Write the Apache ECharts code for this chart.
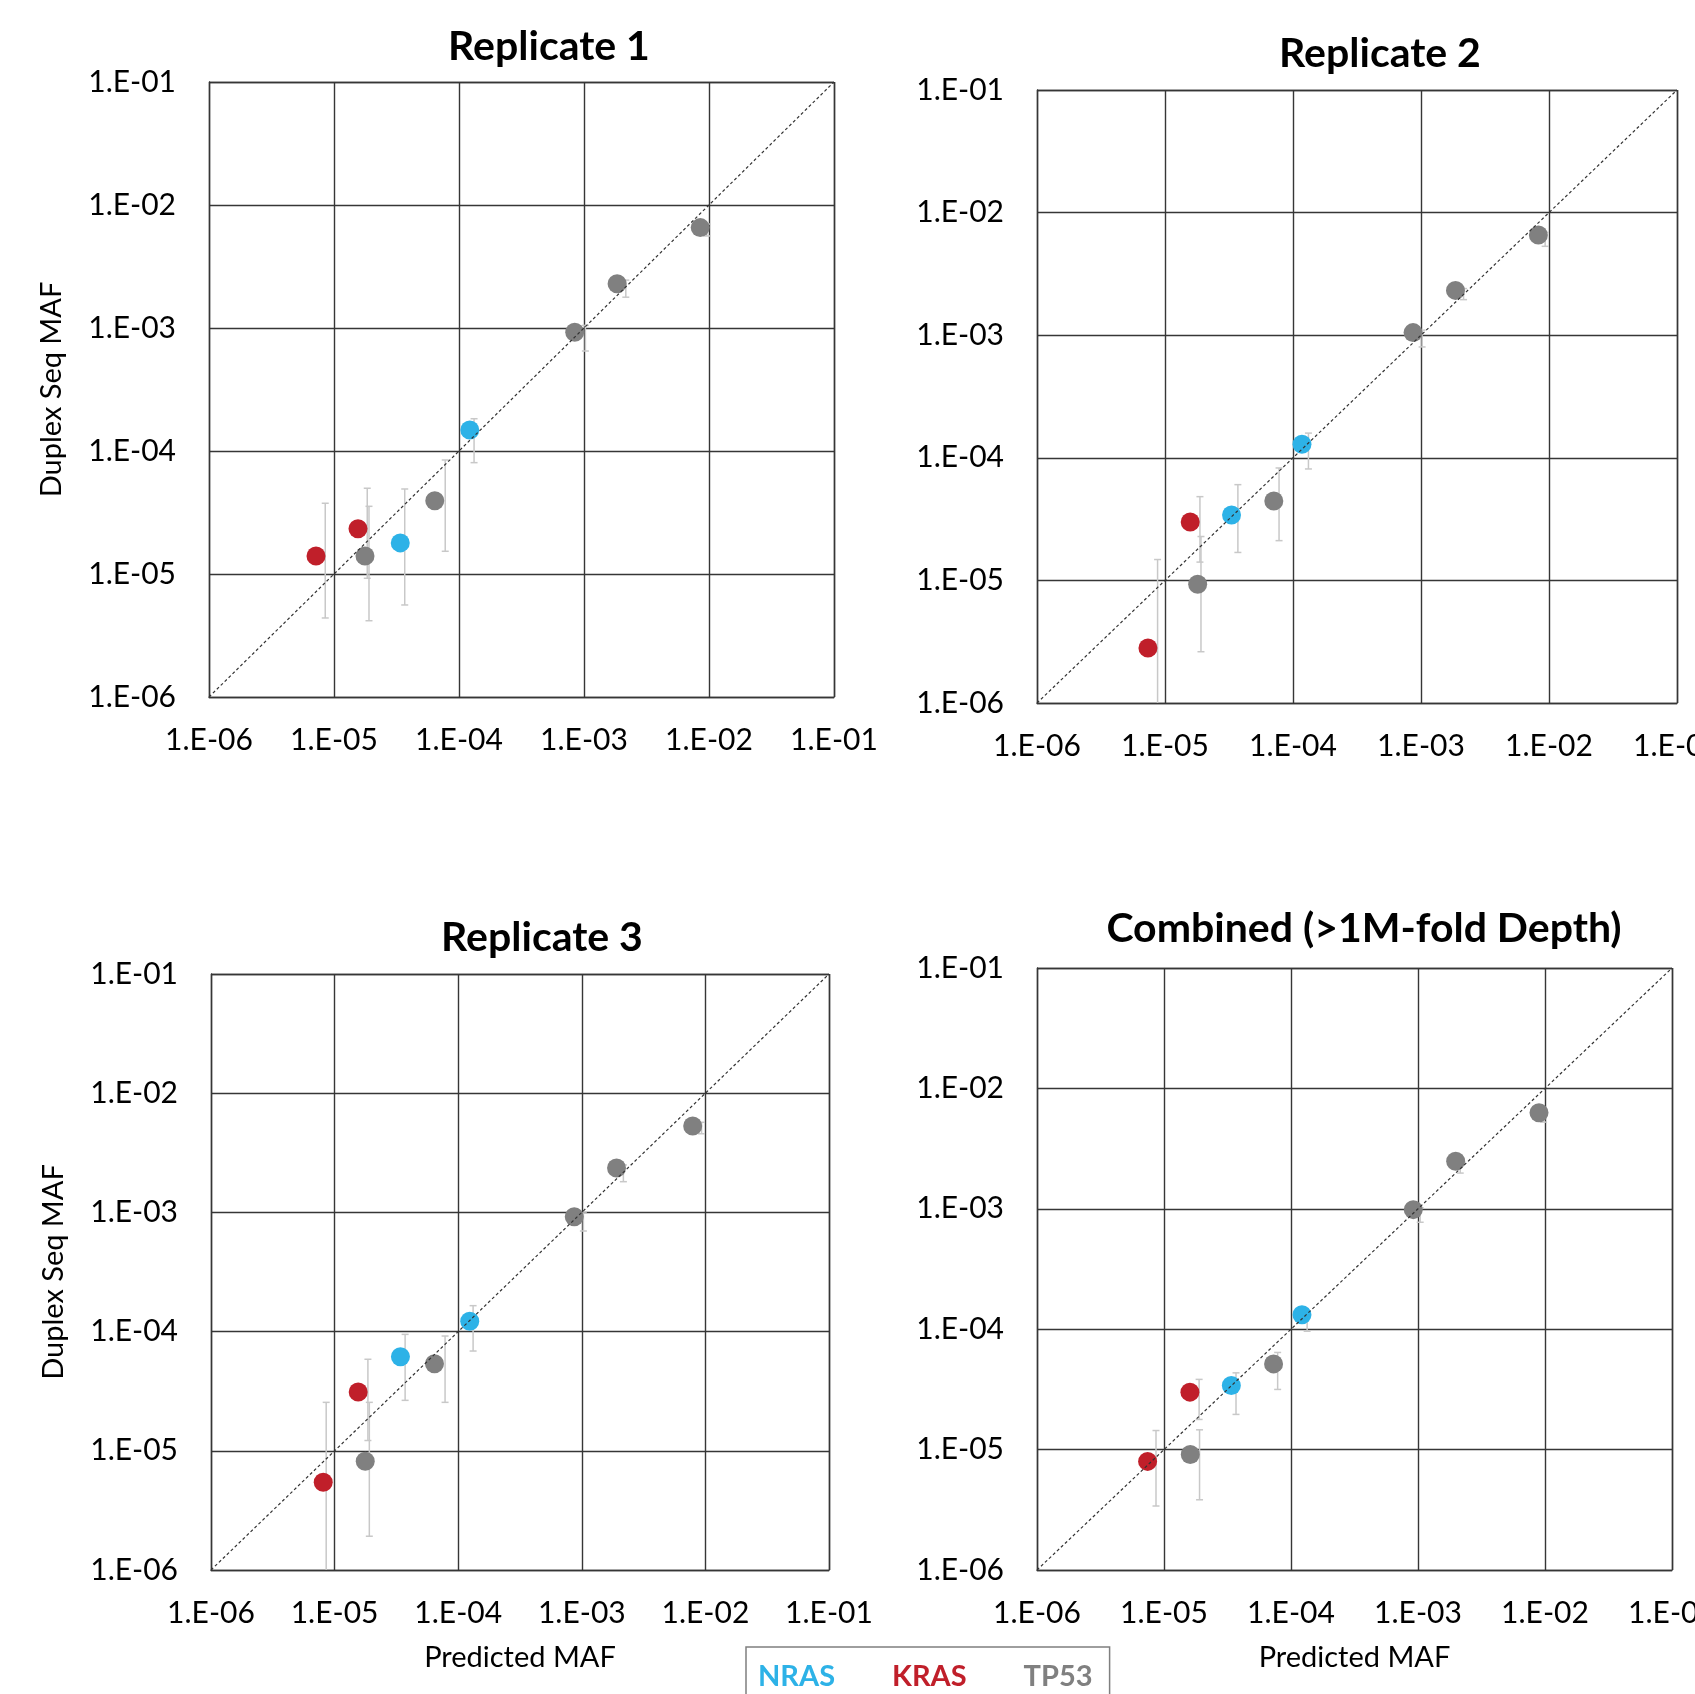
<!DOCTYPE html>
<html>
<head>
<meta charset="utf-8">
<script src="https://cdn.jsdelivr.net/npm/echarts@6/dist/echarts.min.js"></script>
<style>html,body{margin:0;padding:0;background:#fff}#c{width:1695px;height:1694px}</style>
</head>
<body>
<div id="c"></div>
<script>
// ---------- data ----------
const tickLabels = ['1.E-06', '1.E-05', '1.E-04', '1.E-03', '1.E-02', '1.E-01'];
const panelTitles = ['Replicate 1', 'Replicate 2', 'Replicate 3', 'Combined (>1M-fold Depth)'];
const genes = ['KRAS', 'KRAS', 'TP53', 'NRAS', 'TP53', 'NRAS', 'TP53', 'TP53', 'TP53'];

// Replicate 1
const rep1Pred  = [7.18e-6, 1.556e-5, 1.77e-5, 3.39e-5, 6.40e-5, 1.22e-4, 8.43e-4, 1.84e-3, 8.51e-3];
const rep1Obs   = [1.40e-5, 2.33e-5, 1.40e-5, 1.79e-5, 3.94e-5, 1.48e-4, 9.23e-4, 2.29e-3, 6.55e-3];
const rep1ErrX  = [8.51e-6, 1.845e-5, 1.905e-5, 3.68e-5, 7.76e-5, 1.32e-4, 1.026e-3, 2.16e-3, 9.59e-3];
const rep1ErrLo = [4.39e-6, 9.23e-6, 4.17e-6, 5.60e-6, 1.53e-5, 8.04e-5, 6.50e-4, 1.78e-3, 5.60e-3];
const rep1ErrHi = [3.76e-5, 4.98e-5, 3.55e-5, 4.91e-5, 8.45e-5, 1.83e-4, 1.05e-3, 2.45e-3, 7.0e-3];

// Replicate 2
const rep2Pred  = [7.36e-6, 1.574e-5, 1.80e-5, 3.31e-5, 7.08e-5, 1.175e-4, 8.67e-4, 1.86e-3, 8.26e-3];
const rep2Obs   = [2.81e-6, 2.99e-5, 9.29e-6, 3.41e-5, 4.45e-5, 1.29e-4, 1.05e-3, 2.32e-3, 6.56e-3];
const rep2ErrX  = [8.75e-6, 1.875e-5, 1.91e-5, 3.71e-5, 7.78e-5, 1.32e-4, 1.02e-3, 2.15e-3, 9.33e-3];
const rep2ErrLo = [5.0e-7, 1.41e-5, 2.62e-6, 1.69e-5, 2.11e-5, 8.11e-5, 8.02e-4, 1.95e-3, 5.31e-3];
const rep2ErrHi = [1.48e-5, 4.82e-5, 2.28e-5, 6.04e-5, 8.26e-5, 1.59e-4, 1.10e-3, 2.40e-3, 6.9e-3];

// Replicate 3
const rep3Pred  = [8.09e-6, 1.552e-5, 1.77e-5, 3.41e-5, 6.43e-5, 1.24e-4, 8.69e-4, 1.91e-3, 7.89e-3];
const rep3Obs   = [5.45e-6, 3.11e-5, 8.17e-6, 6.15e-5, 5.38e-5, 1.22e-4, 9.20e-4, 2.36e-3, 5.31e-3];
const rep3ErrX  = [8.55e-6, 1.86e-5, 1.91e-5, 3.72e-5, 7.83e-5, 1.32e-4, 1.03e-3, 2.17e-3, 9.31e-3];
const rep3ErrLo = [5.0e-7, 1.22e-5, 1.92e-6, 2.65e-5, 2.55e-5, 6.87e-5, 6.98e-4, 1.81e-3, 4.57e-3];
const rep3ErrHi = [2.55e-5, 5.86e-5, 2.55e-5, 9.48e-5, 9.18e-5, 1.65e-4, 9.9e-4, 2.5e-3, 5.7e-3];

// Combined
const combPred  = [7.43e-6, 1.60e-5, 1.61e-5, 3.39e-5, 7.29e-5, 1.22e-4, 9.18e-4, 1.98e-3, 8.97e-3];
const combObs   = [7.98e-6, 3.00e-5, 9.12e-6, 3.41e-5, 5.15e-5, 1.32e-4, 9.84e-4, 2.48e-3, 6.28e-3];
const combErrX  = [8.65e-6, 1.89e-5, 1.905e-5, 3.69e-5, 7.85e-5, 1.34e-4, 1.04e-3, 2.15e-3, 9.75e-3];
const combErrLo = [3.40e-6, 1.78e-5, 3.83e-6, 1.96e-5, 3.16e-5, 9.62e-5, 7.73e-4, 1.98e-3, 5.25e-3];
const combErrHi = [1.44e-5, 3.83e-5, 1.46e-5, 4.34e-5, 6.41e-5, 1.40e-4, 1.02e-3, 2.6e-3, 6.5e-3];

const identityLine = [[1e-6, 1e-6], [1e-1, 1e-1]];

// ---------- styling / layout ----------
const panels = [
  {pred: rep1Pred, obs: rep1Obs, ex: rep1ErrX, lo: rep1ErrLo, hi: rep1ErrHi},
  {pred: rep2Pred, obs: rep2Obs, ex: rep2ErrX, lo: rep2ErrLo, hi: rep2ErrHi},
  {pred: rep3Pred, obs: rep3Obs, ex: rep3ErrX, lo: rep3ErrLo, hi: rep3ErrHi},
  {pred: combPred, obs: combObs, ex: combErrX, lo: combErrLo, hi: combErrHi}
];
const geneColors = {NRAS: '#2DB2E7', KRAS: '#C01F2A', TP53: '#808080'};
const legendOrder = ['NRAS', 'KRAS', 'TP53'];
const FONT = 'Lato';
const gridBoxes = [
  {left: 209, top: 82, width: 625, height: 615},
  {left: 1037, top: 90, width: 640, height: 613},
  {left: 211, top: 974, width: 618, height: 596},
  {left: 1037, top: 968, width: 635, height: 602}
];
const titlePos = [[549, 26], [1380, 33], [542, 917], [1364, 908]];
const gridColor = '#363636';

function fmt(v) {
  const e = Math.round(Math.log10(v));
  return tickLabels[e + 6] || '';
}

const grid = gridBoxes.map(b => Object.assign({outerBoundsMode: 'none', containLabel: false}, b));
const xAxis = [], yAxis = [], series = [], title = [];

panels.forEach((p, i) => {
  title.push({
    text: panelTitles[i], left: titlePos[i][0], top: titlePos[i][1], textAlign: 'center', padding: 0,
    textStyle: {fontFamily: FONT, fontWeight: 'bold', fontSize: 41, color: '#000'}
  });
  const axCommon = {
    type: 'log', logBase: 10, min: 1e-6, max: 1e-1, gridIndex: i,
    axisLine: {show: true, lineStyle: {color: gridColor, width: 1.4}},
    axisTick: {show: false},
    minorTick: {show: false},
    splitLine: {show: true, showMinLine: true, showMaxLine: true, lineStyle: {color: gridColor, width: 1.4}},
    axisLabel: {formatter: fmt, fontFamily: FONT, fontSize: 30, color: '#000'},
    nameTextStyle: {fontFamily: FONT, fontSize: 29, color: '#000'}
  };
  xAxis.push(Object.assign({}, axCommon, {
    axisLabel: Object.assign({}, axCommon.axisLabel, {margin: 28}),
    name: (i >= 2) ? 'Predicted MAF' : '', nameLocation: 'middle', nameGap: 73
  }));
  yAxis.push(Object.assign({}, axCommon, {
    axisLabel: Object.assign({}, axCommon.axisLabel, {margin: 33}),
    name: (i % 2 === 0) ? 'Duplex Seq MAF' : '', nameLocation: 'middle', nameGap: 143
  }));

  // error bars
  series.push({
    type: 'custom', xAxisIndex: i, yAxisIndex: i, clip: true, z: 2, silent: true,
    data: p.ex.map((x, k) => [x, p.lo[k], p.hi[k]]),
    encode: {x: 0, y: [1, 2]},
    renderItem: function (params, api) {
      const top = api.coord([api.value(0), api.value(2)]);
      const bot = api.coord([api.value(0), api.value(1)]);
      const cx = top[0], w = 3.5;
      const st = {stroke: '#C8C8C8', lineWidth: 1.5};
      return {type: 'group', children: [
        {type: 'line', shape: {x1: cx, y1: top[1], x2: cx, y2: bot[1]}, style: st},
        {type: 'line', shape: {x1: cx - w, y1: top[1], x2: cx + w, y2: top[1]}, style: st},
        {type: 'line', shape: {x1: cx - w, y1: bot[1], x2: cx + w, y2: bot[1]}, style: st}
      ]};
    }
  });

  // points per gene
  legendOrder.forEach(g => {
    const d = [];
    genes.forEach((gg, k) => { if (gg === g) d.push([p.pred[k], p.obs[k]]); });
    series.push({
      type: 'scatter', name: g, xAxisIndex: i, yAxisIndex: i, z: 3,
      symbol: 'circle', symbolSize: 19, data: d,
      itemStyle: {color: geneColors[g], opacity: 1}
    });
  });

  // identity line
  series.push({
    type: 'line', xAxisIndex: i, yAxisIndex: i, z: 4, silent: true,
    data: identityLine, symbol: 'none',
    lineStyle: {color: '#333', width: 1.2, type: [3, 2.5]}
  });
});

const chart = echarts.init(document.getElementById('c'), null, {renderer: 'canvas'});
chart.setOption({
  animation: false,
  backgroundColor: '#fff',
  title: title,
  grid: grid,
  xAxis: xAxis,
  yAxis: yAxis,
  legend: {
    data: legendOrder.map(g => ({name: g, textStyle: {color: geneColors[g]}})),
    left: 746, top: 1647, orient: 'horizontal',
    icon: 'none', itemWidth: 0, itemHeight: 0, itemGap: 52,
    padding: [15, 17, 30, 7],
    borderColor: '#7F7F7F', borderWidth: 1.5,
    selectedMode: false,
    textStyle: {fontFamily: FONT, fontWeight: 'bold', fontSize: 29}
  },
  series: series
});
</script>
</body>
</html>
